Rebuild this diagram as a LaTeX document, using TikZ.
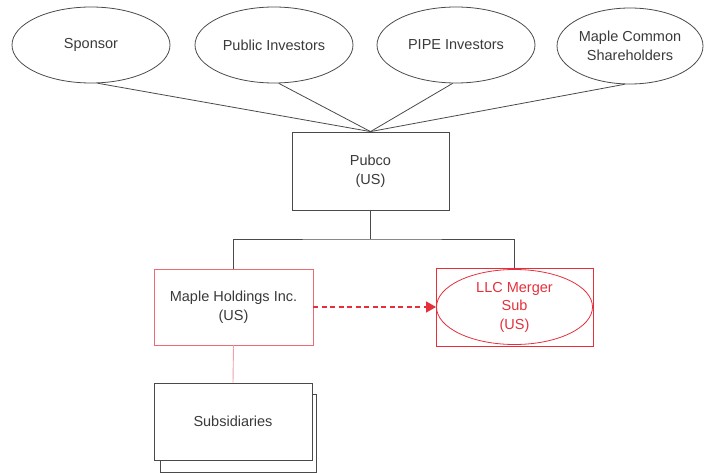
\documentclass[tikz,border=0pt]{standalone}
\usepackage{fontspec}
\setmainfont{Liberation Sans}
\usetikzlibrary{shapes.geometric,arrows.meta}
\definecolor{lg}{HTML}{4A4A4A}
\definecolor{txt}{HTML}{3A3A3A}
\definecolor{rd}{HTML}{E5303C}
\definecolor{pk}{HTML}{EC6A74}
\definecolor{lpk}{HTML}{F2A0A6}
\tikzset{
  owner/.style={ellipse, draw=lg, line width=0.8pt, minimum width=158pt, minimum height=76pt, inner sep=0pt, align=center, text=txt, font=\fontsize{14.5}{19}\selectfont},
  entbox/.style={rectangle, draw=lg, line width=0.8pt, minimum width=157pt, minimum height=78pt, inner sep=0pt, align=center, text=txt, font=\fontsize{14.5}{19}\selectfont, fill=white},
  link/.style={draw=lg, line width=0.8pt},
}
\begin{document}
\begin{tikzpicture}[x=1pt,y=-1pt]
\useasboundingbox (0,0) rectangle (704,473);
% owners
\node[owner] (sp) at (91,45) {Sponsor};
\node[owner] (pi) at (274,45) {Public Investors};
\node[owner] (pp) at (456,45) {PIPE Investors};
\node[owner, minimum width=146pt] (mc) at (630,46) {Maple Common\\Shareholders};
% pubco
\node[entbox] (pub) at (370.5,171) {Pubco\\(US)};
\draw[link] (sp.-80) -- (pub.north);
\draw[link] (pi.-83) -- (pub.north);
\draw[link] (pp.-95) -- (pub.north);
\draw[link] (mc.-98) -- (pub.north);
% subsidiaries stack
\draw[lg, line width=0.8pt, fill=white] (160,394) rectangle (316,472);
\node[entbox, minimum width=158pt, minimum height=77pt] (sub) at (233,421.5) {Subsidiaries};
% Maple holdings
\node[entbox, draw=pk, minimum width=159pt, minimum height=76pt] (mh) at (233.5,307) {Maple Holdings Inc.\\(US)};
% LLC Merger Sub
\node[rectangle, draw=rd, line width=0.8pt, minimum width=157pt, minimum height=78pt, inner sep=0pt] (llcbox) at (514.5,307) {};
\node[ellipse, draw=rd, line width=0.8pt, minimum width=156pt, minimum height=75pt, inner sep=0pt, align=center, text=rd, font=\fontsize{14.5}{18.5}\selectfont] (llc) at (514.5,307) {LLC Merger\\Sub\\(US)};
% org connector
\coordinate (bus) at (370.5,239);
\draw[link] (pub.south) -- (bus);
\draw[link] (mh.north) |- (bus) -| (llcbox.north);
\draw[lpk, line width=0.9pt] (mh.south) -- (sub.north);
% dashed arrow
\draw[rd, line width=1.1pt, dash pattern=on 5pt off 3.5pt, -{Triangle[length=10pt,width=11pt]}] (mh.east) -- (llc.west);
\end{tikzpicture}
\end{document}
